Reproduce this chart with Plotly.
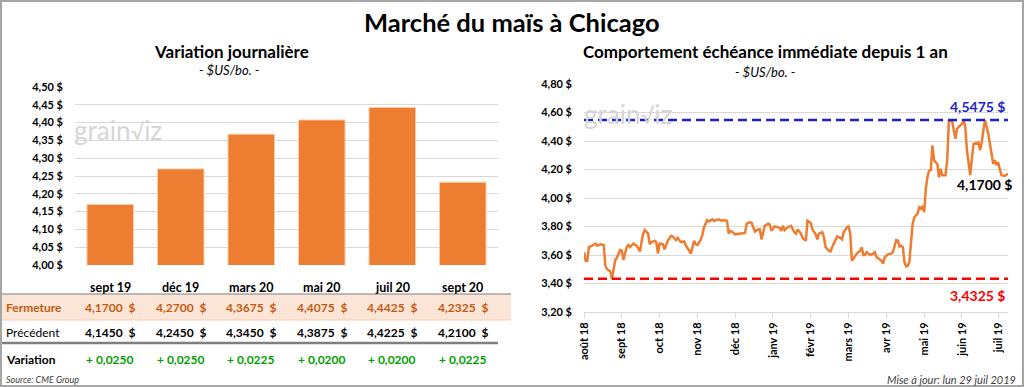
import plotly.graph_objects as go
import pandas as pd

# ---------------- DATA ----------------
CONTRACTS = ["sept 19", "déc 19", "mars 20", "mai 20", "juil 20", "sept 20"]
FERMETURE = [4.1700, 4.2700, 4.3675, 4.4075, 4.4425, 4.2325]
PRECEDENT = [4.1450, 4.2450, 4.3450, 4.3875, 4.4225, 4.2100]
VARIATION = [0.0250, 0.0250, 0.0225, 0.0200, 0.0200, 0.0225]

BAR_TICKS = [4.00, 4.05, 4.10, 4.15, 4.20, 4.25, 4.30, 4.35, 4.40, 4.45, 4.50]
LINE_TICKS = [3.20, 3.40, 3.60, 3.80, 4.00, 4.20, 4.40, 4.60, 4.80]

# nearby-contract daily closes (trading-day index from 1 Aug 2018, value $US/bo.)
START_DATE = "2018-08-01"
END_DATE = "2019-07-29"
DAY_INDEX = [0, 1, 2, 3, 5, 7, 8, 10, 12, 13, 14, 16, 17, 18, 19, 20, 21, 22, 23, 24,
             26, 27, 28, 30, 32, 34, 35, 36, 37, 39, 40, 41, 43, 44, 45, 46, 48, 49, 51, 53,
             54, 56, 57, 59, 61, 62, 64, 65, 67, 68, 69, 71, 72, 73, 74, 75, 76, 78, 79, 81,
             82, 84, 85, 87, 88, 89, 90, 92, 94, 96, 98, 99, 101, 102, 104, 106, 107, 108, 110, 112,
             113, 114, 116, 118, 119, 120, 121, 122, 124, 126, 128, 129, 130, 132, 133, 135, 136, 138, 139, 141,
             142, 143, 145, 146, 147, 149, 150, 151, 153, 154, 156, 157, 158, 160, 161, 162, 163, 165, 166, 168,
             169, 170, 171, 172, 174, 176, 177, 178, 180, 181, 182, 183, 185, 187, 188, 189, 190, 191, 192, 193,
             194, 195, 196, 197, 198, 199, 200, 201, 203, 204, 205, 206, 207, 208, 209, 210, 211, 212, 213, 214,
             215, 216, 217, 218, 220, 221, 222, 224, 226, 227, 228, 230, 231, 232, 233, 234, 235, 237, 239, 240,
             241, 242, 243, 244, 246, 247, 248, 249, 250, 251, 252, 253, 254, 256, 257, 258]
PRICE = [3.62, 3.56, 3.56, 3.655, 3.665, 3.68, 3.665, 3.675, 3.67, 3.525, 3.50, 3.485, 3.4325, 3.50, 3.565, 3.58, 3.605, 3.635, 3.63, 3.565,
         3.655, 3.67, 3.655, 3.68, 3.665, 3.625, 3.69, 3.75, 3.775, 3.75, 3.675, 3.69, 3.70, 3.69, 3.61, 3.68, 3.675, 3.64, 3.70, 3.735,
         3.73, 3.705, 3.72, 3.69, 3.695, 3.665, 3.63, 3.61, 3.70, 3.675, 3.67, 3.705, 3.74, 3.795, 3.82, 3.845, 3.835, 3.85, 3.84, 3.845,
         3.85, 3.84, 3.845, 3.84, 3.75, 3.77, 3.765, 3.745, 3.75, 3.75, 3.755, 3.82, 3.83, 3.825, 3.765, 3.78, 3.78, 3.71, 3.805, 3.82,
         3.815, 3.77, 3.80, 3.795, 3.79, 3.77, 3.805, 3.775, 3.795, 3.805, 3.76, 3.75, 3.78, 3.75, 3.72, 3.70, 3.84, 3.825, 3.78, 3.745,
         3.71, 3.75, 3.76, 3.725, 3.655, 3.63, 3.625, 3.655, 3.71, 3.73, 3.72, 3.71, 3.76, 3.795, 3.80, 3.75, 3.56, 3.595, 3.61, 3.63,
         3.655, 3.60, 3.60, 3.62, 3.60, 3.61, 3.62, 3.585, 3.57, 3.56, 3.54, 3.585, 3.605, 3.61, 3.62, 3.675, 3.705, 3.70, 3.66, 3.665,
         3.655, 3.55, 3.52, 3.525, 3.55, 3.69, 3.82, 3.865, 3.89, 3.935, 3.925, 3.945, 3.90, 4.065, 4.15, 4.19, 4.195, 4.37, 4.265, 4.25,
         4.24, 4.145, 4.205, 4.16, 4.16, 4.265, 4.54, 4.54, 4.415, 4.485, 4.50, 4.52, 4.5475, 4.50, 4.335, 4.25, 4.16, 4.38, 4.385, 4.39,
         4.335, 4.39, 4.475, 4.5475, 4.45, 4.38, 4.31, 4.24, 4.265, 4.23, 4.25, 4.205, 4.16, 4.155, 4.165, 4.17]
HIGH_1Y = 4.5475
LOW_1Y = 3.4325
LAST = 4.1700

MONTH_TICK_INDEX = [0, 23, 46, 69, 92, 115, 138, 161, 184, 207, 230, 252]
MONTH_LABELS = ["août 18", "sept 18", "oct 18", "nov 18", "déc 18", "janv 19",
                "févr 19", "mars 19", "avr 19", "mai 19", "juin 19", "juil 19"]

# ---------------- STYLE ----------------
W, H = 1024, 387
FONT = "Lato"
ORANGE = "#ED7D31"
BROWN = "#C55A11"
GREEN = "#00A000"
BLUE = "#1F1FC8"
RED = "#FF0000"
GRID = "#D9D9D9"


def px(x):
    return x / W


def py(y):
    return 1 - y / H


def fr(v, d):
    return f"{v:.{d}f}".replace(".", ",")


bdays = pd.bdate_range(START_DATE, END_DATE)
dates = [bdays[i] for i in DAY_INDEX]
tickdates = [bdays[i] for i in MONTH_TICK_INDEX]

fig = go.Figure()

fig.add_trace(go.Bar(
    x=CONTRACTS, y=FERMETURE, xaxis="x", yaxis="y",
    marker=dict(color=ORANGE, line=dict(color="#F8CBAD", width=1)),
    showlegend=False,
))

fig.add_trace(go.Scatter(
    x=dates, y=PRICE, xaxis="x2", yaxis="y2", mode="lines",
    line=dict(color=ORANGE, width=2.5), showlegend=False,
))

bold = dict(family=FONT, size=11, color="#000000", weight="bold")

fig.update_layout(
    template="none",
    width=W, height=H,
    margin=dict(l=0, r=0, t=0, b=0, pad=0, autoexpand=False),
    paper_bgcolor="white", plot_bgcolor="white",
    font=dict(family=FONT, color="#000000"),
    bargap=0.34,
    xaxis=dict(domain=[px(75), px(498)], anchor="y", showticklabels=False, automargin=False,
               showgrid=False, zeroline=False, showline=False, ticks="", fixedrange=True),
    yaxis=dict(domain=[py(265), py(87)], anchor="x", range=[4.0, 4.5], automargin=False,
               tickvals=BAR_TICKS, ticktext=[fr(v, 2) + " $" for v in BAR_TICKS],
               tickfont=bold, showgrid=True, gridcolor=GRID, gridwidth=1,
               zeroline=False, showline=False, ticks="", ticklabelstandoff=11),
    xaxis2=dict(domain=[px(584), px(1008)], anchor="y2", type="date", automargin=False,
                range=[dates[0], dates[-1]],
                rangebreaks=[dict(bounds=["sat", "mon"])],
                tickvals=tickdates, ticktext=MONTH_LABELS, tickangle=-90,
                tickfont=bold, showgrid=False, zeroline=False,
                showline=True, linecolor=GRID, linewidth=1,
                ticks="outside", ticklen=5, tickcolor=GRID),
    yaxis2=dict(domain=[py(312), py(84)], anchor="x2", range=[3.2, 4.8], automargin=False,
                tickvals=LINE_TICKS, ticktext=[fr(v, 2) + " $" for v in LINE_TICKS],
                tickfont=bold, showgrid=True, gridcolor=GRID, gridwidth=1,
                zeroline=False, showline=False, ticks="", ticklabelstandoff=11),
)

shapes = []
# outer frame
shapes.append(dict(type="rect", xref="paper", yref="paper", x0=px(1), x1=px(1023), y0=py(386), y1=py(1),
                   line=dict(color="#A6A6A6", width=2), layer="above"))
# table: Fermeture band
shapes.append(dict(type="rect", xref="paper", yref="paper", x0=px(2), x1=px(511), y0=py(320), y1=py(294),
                   fillcolor="#FBE5D6", line=dict(width=0), layer="below"))
shapes.append(dict(type="line", xref="paper", yref="paper", x0=px(2), x1=px(511), y0=py(294), y1=py(294),
                   line=dict(color="#7F7F7F", width=1)))
shapes.append(dict(type="line", xref="paper", yref="paper", x0=px(2), x1=px(511), y0=py(320), y1=py(320),
                   line=dict(color="#F8CBAD", width=1)))
shapes.append(dict(type="line", xref="paper", yref="paper", x0=px(2), x1=px(498), y0=py(343), y1=py(343),
                   line=dict(color="#7F7F7F", width=2.5)))
# 1-year high / low
shapes.append(dict(type="line", xref="x2 domain", yref="y2", x0=0, x1=1, y0=HIGH_1Y, y1=HIGH_1Y,
                   line=dict(color=BLUE, width=2.5, dash="9px,5px")))
shapes.append(dict(type="line", xref="x2 domain", yref="y2", x0=0, x1=1, y0=LOW_1Y, y1=LOW_1Y,
                   line=dict(color=RED, width=2.5, dash="9px,5px")))

ann = []


def text(x, y, s, size=11, color="#000000", weight="normal", style="normal", xanchor="center", xref="paper"):
    ann.append(dict(x=x, y=y, xref=xref, yref="paper", text=s, showarrow=False,
                    xanchor=xanchor, yanchor="middle",
                    font=dict(family=FONT, size=size, color=color, weight=weight, style=style)))


text(px(512), py(22), "Marché du maïs à Chicago", size=25.5, weight="bold")
text(px(231), py(51), "Variation journalière", size=17, weight="bold")
text(px(229), py(70), "- $US/bo. -", size=13, style="italic")
text(px(765), py(51), "Comportement échéance immédiate depuis 1 an", size=17, weight="bold")
text(px(765), py(72), "- $US/bo. -", size=13, style="italic")

# watermark logos
text(px(72), py(130), "grain<span style='font-size:22px'>√</span>iz", size=26, color="#D6D6D6", xanchor="left")
text(px(582), py(114), "grain<span style='font-size:22px'>√</span>iz", size=26, color="#D6D6D6", xanchor="left")

# table
text(px(4), py(307), "Fermeture", size=12, color=BROWN, weight="bold", xanchor="left")
text(px(4), py(332), "Précédent", size=12, xanchor="left")
text(px(4), py(359), "Variation", size=12, weight="bold", xanchor="left")
for c, f, p, v in zip(CONTRACTS, FERMETURE, PRECEDENT, VARIATION):
    text(c, py(287), c, size=12.5, weight="bold", xref="x")
    text(c, py(307), fr(f, 4) + "\u00a0\u00a0$", size=12, color=BROWN, weight="bold", xref="x")
    text(c, py(332), fr(p, 4) + "\u00a0\u00a0$", size=12, weight="bold", xref="x")
    text(c, py(359), "+ " + fr(v, 4), size=12, color=GREEN, weight="bold", xref="x")

text(px(4), py(379), "Source: CME Group", size=9, color="#404040", style="italic", xanchor="left")
text(px(1018), py(379), "Mise à jour: lun 29 juil 2019", size=11, color="#404040", style="italic", xanchor="right")

# line chart labels
text(px(1007), py(106), fr(HIGH_1Y, 4) + " $", size=14, color=BLUE, weight="bold", xanchor="right")
text(px(1007), py(295), fr(LOW_1Y, 4) + " $", size=14, color=RED, weight="bold", xanchor="right")
text(px(1014), py(184), fr(LAST, 4) + " $", size=14, color="#000000", weight="bold", xanchor="right")

fig.update_layout(shapes=shapes, annotations=ann)
fig.write_html("out.html", config={"displayModeBar": False},
               post_script="document.body.style.margin='0';document.body.style.overflow='hidden';")
